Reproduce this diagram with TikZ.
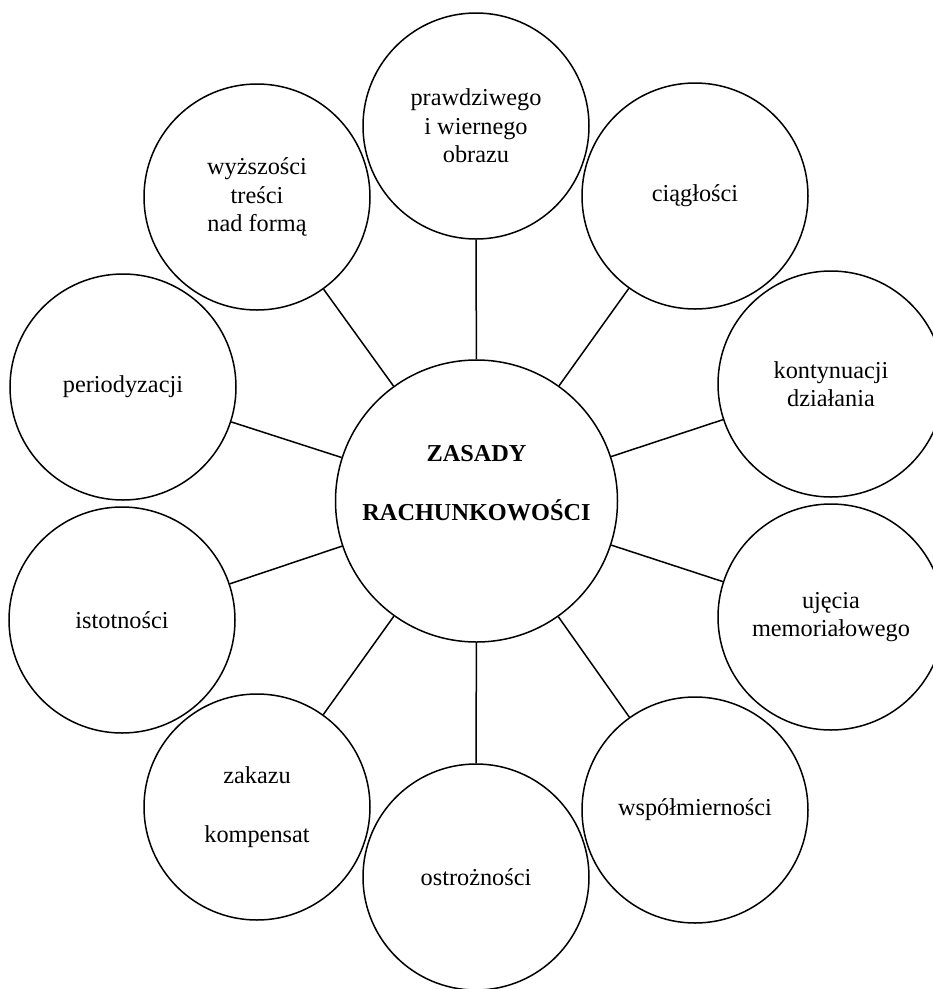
\documentclass[tikz,border=0pt]{standalone}
\usepackage{fontspec}
\setmainfont{Liberation Serif}
\begin{document}
\begin{tikzpicture}[x=1pt,y=-1pt,
  bubble/.style={circle,draw,line width=1.5pt,minimum size=226pt,inner sep=0pt,
    align=center,font=\fontsize{24.3}{28.5}\selectfont},
  hub/.style={circle,draw,line width=1.5pt,minimum size=282pt,inner sep=0pt},
  hubtext/.style={align=center,font=\bfseries\fontsize{24.3}{29}\selectfont},
  link/.style={line width=1.5pt}]
\useasboundingbox (0,0) rectangle (933,989);
\clip (0,0) rectangle (933,989);

% central circle and its title
\node[hub] (c) at (476.5,501) {};
\node[hubtext] (title) at (476.5,483) {ZASADY\\[30pt]RACHUNKOWOŚCI};

% surrounding principles
\node[bubble] (o1)  at (476,126) {prawdziwego\\i wiernego\\obrazu};
\node[bubble] (o2)  at (695,196) {ciągłości};
\node[bubble] (o3)  at (831,384) {kontynuacji\\działania};
\node[bubble] (o4)  at (831,617) {ujęcia\\memoriałowego};
\node[bubble] (o5)  at (695,810) {współmierności};
\node[bubble] (o6)  at (476,877) {ostrożności};
\node[bubble] (o7)  at (257,807) {zakazu\\[31pt]kompensat};
\node[bubble] (o8)  at (122,620) {istotności};
\node[bubble] (o9)  at (123,387) {periodyzacji};
\node[bubble] (o10) at (257,197) {wyższości\\treści\\nad formą};

% spokes
\foreach \n in {o1,o2,o3,o4,o5,o6,o7,o8,o9,o10}
  \draw[link] (c) -- (\n);
\end{tikzpicture}
\end{document}
